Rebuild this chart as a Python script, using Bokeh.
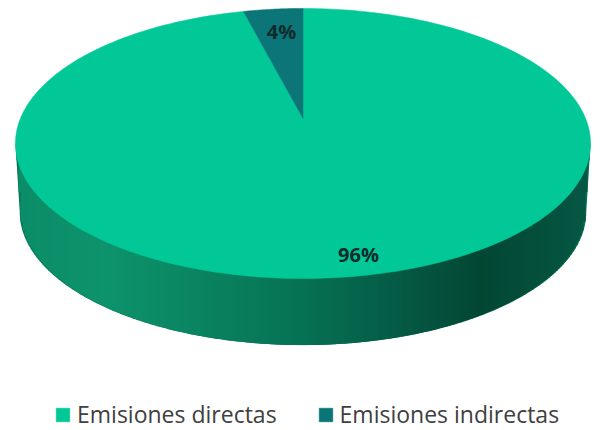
from math import sin, cos, pi
import numpy as np
from bokeh.plotting import figure
from bokeh.models import Range1d, Legend, LegendItem
from bokeh.core.properties import value
from bokeh.embed import file_html
from bokeh.resources import INLINE

categories = ["Emisiones directas", "Emisiones indirectas"]
shares = [96, 4]
labels = ["96%", "4%"]
colors = ["#02C897", "#0B7578"]
wall_stops = [(15, "#0B8D68"), (110, "#0D936C"), (300, "#067254"), (400, "#055A44"), (480, "#034634"), (590, "#055844")]

W, H = 600, 430
CX, CY, RX, RY, TILT = 302.5, 118.0, 282.6, 130.4, 0.185
DEPTH, SHRINK = 69.0, 0.985


def project(theta, scale=1.0, dy=0.0):
    u, v = sin(theta), cos(theta)
    d = 1 + TILT * v
    return CX + scale * RX * u / d, CY + dy - scale * RY * v / d


def mix(x):
    for (x0, c0), (x1, c1) in zip(wall_stops, wall_stops[1:]):
        if x <= x1:
            t = max(0.0, (x - x0) / (x1 - x0))
            a = [int(c0[i:i + 2], 16) for i in (1, 3, 5)]
            b = [int(c1[i:i + 2], 16) for i in (1, 3, 5)]
            return "#%02x%02x%02x" % tuple(round(p + (q - p) * t) for p, q in zip(a, b))
    return wall_stops[-1][1]


p = figure(width=W, height=H, output_backend="svg", toolbar_location=None,
           x_range=Range1d(0, W), y_range=Range1d(H, 0),
           min_border=0, outline_line_color=None)
p.axis.visible = False
p.grid.visible = False
p.background_fill_color = "white"
p.border_fill_color = "white"

# side wall: vertical strips under the front edge of the lower rim
extreme = np.arccos(-TILT)
angles = np.linspace(extreme, 2 * pi - extreme, 400)
rim = np.array([project(a, SHRINK, DEPTH) for a in angles])
order = np.argsort(rim[:, 0])
rim_x, rim_y = rim[order, 0], rim[order, 1]
left_top, right_top = project(2 * pi - extreme), project(extreme)
edge_x = np.concatenate(([left_top[0]], rim_x, [right_top[0]]))
edge_y = np.concatenate(([left_top[1]], rim_y, [right_top[1]]))
p.patch(np.concatenate((edge_x, edge_x[[-1, 0]])),
        np.concatenate((edge_y, [left_top[1], left_top[1]])),
        fill_color=wall_stops[2][1], fill_alpha=1.0, line_color=None)
lefts = np.arange(np.floor(edge_x[0]), np.ceil(edge_x[-1]) - 2, 2.0)
rights = np.minimum(lefts + 3.0, edge_x[-1])
centres = np.clip(lefts + 1.0, edge_x[0], edge_x[-1])
floors = np.minimum(np.interp(np.clip(lefts, edge_x[0], edge_x[-1]), edge_x, edge_y),
                    np.interp(np.clip(rights, edge_x[0], edge_x[-1]), edge_x, edge_y))
p.quad(left=np.maximum(lefts, edge_x[0]), right=rights, top=np.full_like(lefts, left_top[1]),
       bottom=floors, fill_color=[mix(x) for x in centres], fill_alpha=1.0, line_color=None)

# top face
total = sum(shares)
items = []
start = [0.0, -2 * pi * shares[1] / total]
sweep = [2 * pi * shares[0] / total, 2 * pi * shares[1] / total]
for k in range(2):
    n = 300 if k == 0 else 30
    pts = [project(start[k] + sweep[k] * j / n) for j in range(n + 1)]
    px = [CX] + [q[0] for q in pts]
    py = [CY] + [q[1] for q in pts]
    r = p.patch(px, py, fill_color=colors[k], fill_alpha=1.0, line_color=colors[k], line_width=0.5)
    items.append(LegendItem(label=categories[k], renderers=[r]))

# data labels
p.text([358, 281], [254, 31], text=labels, text_font=value("Open Sans"),
       text_font_style="bold", text_font_size="20px", text_color="#0F2B2B",
       text_align="center", text_baseline="middle")

legend = Legend(items=items, orientation="horizontal", location=(54, 0),
                background_fill_alpha=0, border_line_color=None,
                label_text_font="Open Sans", label_text_font_size="23px",
                label_text_color="#404040", glyph_width=17, glyph_height=17,
                label_standoff=6, spacing=40, padding=0, margin=0)
p.add_layout(legend, "center")

open("out.html", "w").write(file_html(p, INLINE))
